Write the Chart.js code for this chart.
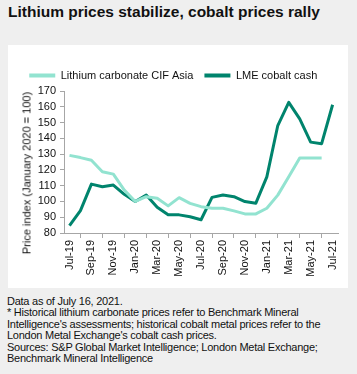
<!DOCTYPE html>
<html>
<head>
<meta charset="utf-8">
<script src="https://cdn.jsdelivr.net/npm/chart.js@4.4.1/dist/chart.umd.min.js"></script>
<style>
  html, body { margin: 0; padding: 0; }
  body { width: 357px; height: 374px; background: #efefef; position: relative; overflow: hidden; font-family: "Liberation Sans", Arial, sans-serif; color: #111; }
  #title { position: absolute; left: 8px; top: 3px; font-size: 15.5px; font-weight: bold; white-space: nowrap; color: #111; }
  #panel { position: absolute; left: 8px; top: 45px; width: 340px; height: 243px; background: #fff; }
  #ytitle { position: absolute; left: 27px; top: 173px; transform: translate(-50%, -50%) rotate(-90deg); font-size: 11px; white-space: nowrap; color: #111; line-height: 13px; }
  #note { position: absolute; left: 7px; top: 296px; font-size: 11px; letter-spacing: -0.25px; line-height: 11.4px; white-space: nowrap; color: #111; }
</style>
</head>
<body>
<div id="title">Lithium prices stabilize, cobalt prices rally</div>
<div id="panel"><canvas id="c" width="340" height="243"></canvas></div>
<div id="ytitle">Price index (January 2020 = 100)</div>
<div id="note">Data as of July 16, 2021.<br>* Historical lithium carbonate prices refer to Benchmark Mineral<br>Intelligence's assessments; historical cobalt metal prices refer to the<br>London Metal Exchange's cobalt cash prices.<br>Sources: S&amp;P Global Market Intelligence; London Metal Exchange;<br>Benchmark Mineral Intelligence</div>
<script>
const months = ["Jul-19","Aug-19","Sep-19","Oct-19","Nov-19","Dec-19","Jan-20","Feb-20","Mar-20","Apr-20","May-20","Jun-20","Jul-20","Aug-20","Sep-20","Oct-20","Nov-20","Dec-20","Jan-21","Feb-21","Mar-21","Apr-21","May-21","Jun-21","Jul-21"];
const lithium = [129.2,127.8,126.1,118.8,117.3,107.2,100,103,102,97.2,102.4,98.8,96.7,95.7,95.7,94,92.1,92.1,95.7,104,115.6,127.6,127.6,127.6,null];
const cobalt = [84.6,94.2,111,109.3,110.4,104.5,100,104.1,96.3,91.5,91.5,90.3,88.4,102.6,104.1,103,99.9,98.9,115.6,148.1,162.8,152.3,137.6,136.6,161.3];
const yTicks = [80,90,100,110,120,130,140,150,160,170];
const seriesNames = ["Lithium carbonate CIF Asia","LME cobalt cash"];

const axisGray = "#a6a6a6";
const font = { family: "'Liberation Sans', Arial, sans-serif", size: 11 };

new Chart(document.getElementById('c'), {
  type: 'line',
  data: {
    labels: months,
    datasets: [
      { label: seriesNames[0], data: lithium, borderColor: '#92e3d0', backgroundColor: '#92e3d0', borderWidth: 3, pointRadius: 0, tension: 0, borderJoinStyle: 'round' },
      { label: seriesNames[1], data: cobalt, borderColor: '#00846d', backgroundColor: '#00846d', borderWidth: 3, pointRadius: 0, tension: 0, borderJoinStyle: 'round' }
    ]
  },
  options: {
    responsive: false,
    animation: false,
    devicePixelRatio: 1,
    layout: { padding: { left: 0, right: 9.5, top: 14, bottom: 0 } },
    plugins: {
      legend: {
        display: true,
        position: 'top',
        labels: {
          boxWidth: 26, boxHeight: 4, padding: 11, color: '#111', font: font,
          generateLabels: function(chart) {
            const items = Chart.defaults.plugins.legend.labels.generateLabels(chart);
            items.forEach(it => { it.lineWidth = 0; it.strokeStyle = 'rgba(0,0,0,0)'; });
            return items;
          }
        }
      },
      tooltip: { enabled: false }
    },
    scales: {
      x: {
        type: 'category',
        offset: true,
        grid: { offset: true, drawOnChartArea: false, drawTicks: true, tickLength: 5, color: axisGray },
        border: { display: true, color: axisGray, width: 1 },
        ticks: {
          autoSkip: false, minRotation: 90, maxRotation: 90, padding: 2, color: '#111', font: font,
          callback: function(v, i) { return i % 2 === 0 ? months[i] : null; }
        },
        afterFit: function(s) { s.height = 55; }
      },
      y: {
        min: 80, max: 170,
        afterBuildTicks: function(s) { s.ticks = yTicks.map(v => ({ value: v })); },
        grid: { drawOnChartArea: false, drawTicks: true, tickLength: 4, color: axisGray },
        border: { display: true, color: axisGray, width: 1 },
        ticks: { stepSize: 10, autoSkip: false, padding: 4, color: '#111', font: font },
        afterFit: function(s) { s.width = 56; }
      }
    }
  }
});
</script>
</body>
</html>
